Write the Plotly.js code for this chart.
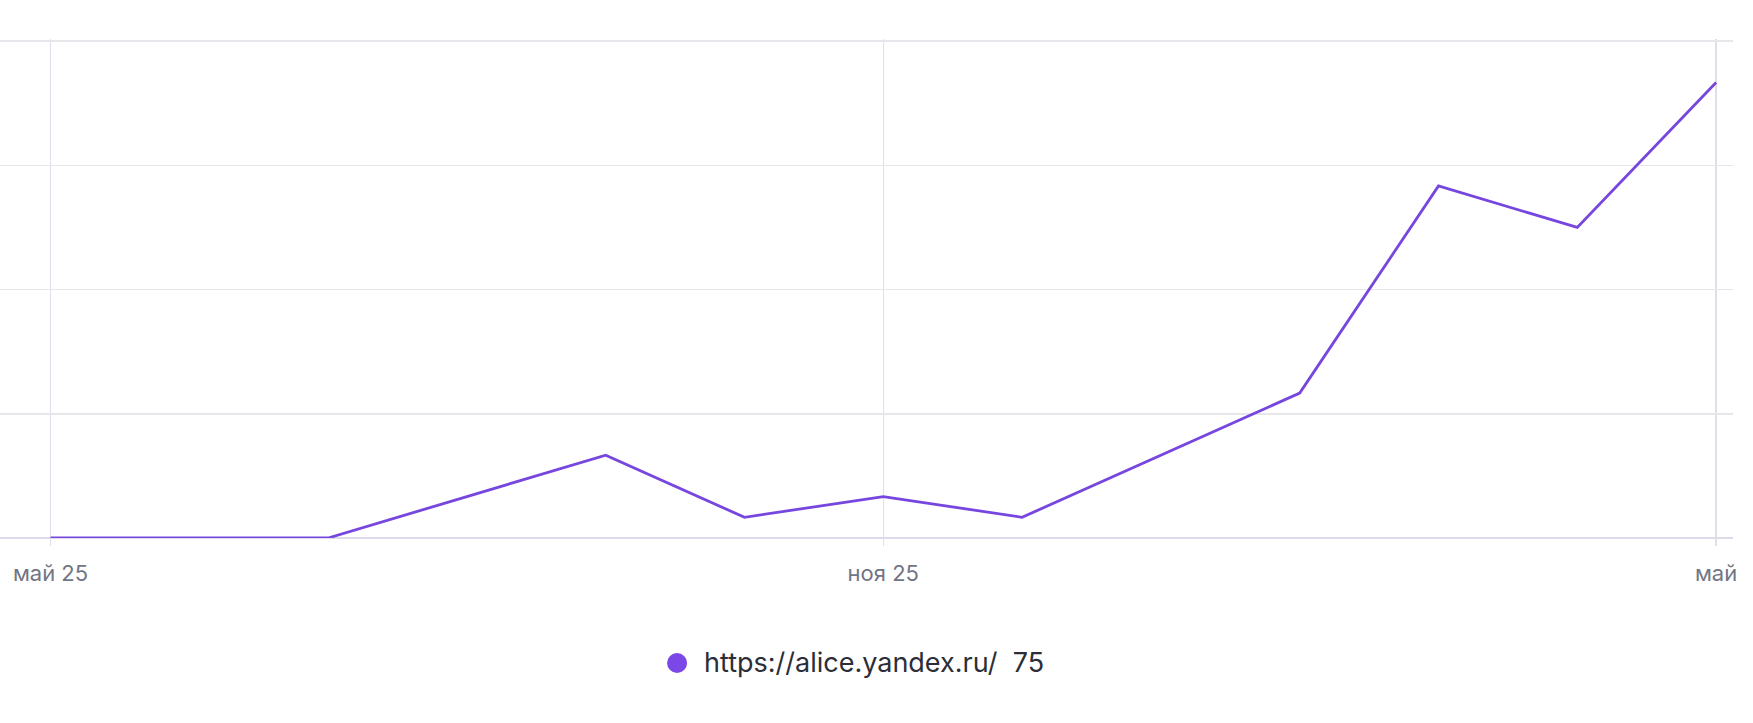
<!DOCTYPE html>
<html>
<head>
<meta charset="utf-8">
<script src="https://cdn.plot.ly/plotly-3.0.1.min.js"></script>
<style>
  html, body { margin: 0; padding: 0; background: #ffffff; }
  #chart { width: 1753px; height: 723px; }
</style>
</head>
<body>
<div id="chart"></div>
<script>
// Monthly points, May 2025 .. May 2026
const months = ["май 25","июн 25","июл 25","авг 25","сен 25","окт 25","ноя 25","дек 25","янв 26","фев 26","мар 26","апр 26","май 26"];
const values = [0, 0, 0, 2, 4, 1, 2, 1, 4, 7, 17, 15, 22];
const seriesName = "https://alice.yandex.ru/";
const tickIndex = [0, 6, 12];
const tickLabels = ["май 25", "ноя 25", "май"];

const xIdx = months.map((m, i) => i);
const total = values.reduce((a, b) => a + b, 0);
const purple = "#7646df";
const dotColor = "#7b47e6";

const traces = [
  {
    x: xIdx, y: values, type: "scatter", mode: "lines",
    line: { color: purple, width: 2.8 },
    name: seriesName, showlegend: false, hoverinfo: "x+y",
    text: months
  }
];

const legendX = 0.3907, legendY = -0.2505;

const layout = {
  width: 1753, height: 723,
  margin: { l: 0, r: 20, t: 39, b: 185 },
  paper_bgcolor: "#ffffff", plot_bgcolor: "#ffffff",
  font: { family: "Inter, 'Noto Sans', sans-serif" },
  xaxis: {
    range: [-0.364, 12.122],
    tickmode: "array", tickvals: tickIndex, ticktext: tickLabels,
    showgrid: true, gridcolor: "#e0dfe9", gridwidth: 1.3,
    zeroline: false, showline: false,
    ticks: "outside", ticklen: 7, tickcolor: "#e0dfe9", tickwidth: 1.3,
    tickfont: { size: 22, color: "#727584" },
    ticklabelstandoff: 9,
    fixedrange: true
  },
  yaxis: {
    range: [0, 24.1], tickmode: "linear", tick0: 0, dtick: 6,
    showticklabels: false, ticks: "",
    showgrid: true, gridcolor: "#e6e6eb", gridwidth: 1.5,
    zeroline: true, zerolinecolor: "#dcdbe9", zerolinewidth: 2,
    showline: false, fixedrange: true
  },
  showlegend: false,
  shapes: [
    {
      type: "circle", xref: "paper", yref: "paper",
      xsizemode: "pixel", ysizemode: "pixel",
      xanchor: legendX, yanchor: legendY,
      x0: -10, x1: 10, y0: -10, y1: 10,
      fillcolor: dotColor, line: { width: 0 }
    }
  ],
  annotations: [
    {
      xref: "paper", yref: "paper", x: legendX + 0.0144, y: legendY,
      xanchor: "left", yanchor: "middle", showarrow: false,
      text: seriesName + "\u00a0\u00a0" + total,
      font: { size: 27, color: "#2b2e38" }
    }
  ]
};

Plotly.newPlot("chart", traces, layout, { displayModeBar: false, staticPlot: true });
</script>
</body>
</html>
